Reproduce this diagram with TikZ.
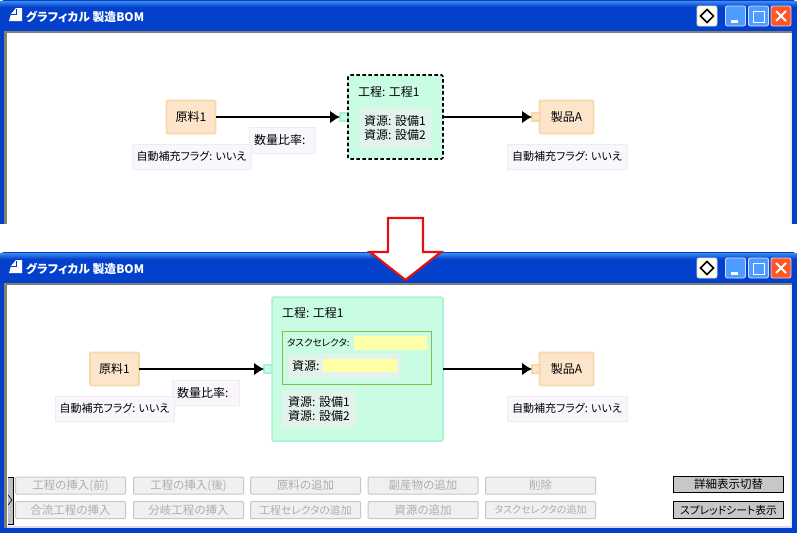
\documentclass[tikz,border=0pt]{standalone}
\usepackage{fontspec}
\usetikzlibrary{arrows.meta,shapes.geometric}
\setmainfont{Noto Sans CJK JP}[RawFeature={+palt}]
\newfontfamily\cjkui{Noto Sans CJK JP}[RawFeature={+palt}]
\definecolor{matfill}{HTML}{FDE5CC}
\definecolor{matline}{HTML}{F8D7A8}
\definecolor{procfill}{HTML}{C8FDE4}
\definecolor{procline}{HTML}{A8F2D0}
\definecolor{notefill}{HTML}{F9F6FC}
\definecolor{noteline}{HTML}{F0EAF4}
\definecolor{resfill}{HTML}{E2F3EC}
\definecolor{yel}{HTML}{FFFFA8}
\definecolor{selline}{HTML}{8CB84C}
\definecolor{xpblue}{HTML}{0340CC}
\definecolor{xptop}{HTML}{3C8CF0}
\definecolor{xpdark}{HTML}{0038C0}
\definecolor{frameg}{HTML}{808078}
\tikzset{
  every node/.style={inner sep=0pt,outer sep=0pt,font=\cjkui\fontsize{12}{14.5}\selectfont,text=black},
  matbox/.style={draw=matline,fill=matfill,line width=1.6pt,rounded corners=1pt},
  matport/.style={draw=matline,fill=matfill,line width=1.2pt,minimum width=8pt,minimum height=8pt},
  procport/.style={draw=procline,fill=procfill,line width=1.2pt,minimum width=8pt,minimum height=8pt},
  procbox/.style={fill=procfill,rounded corners=1.5pt},
  notebox/.style={draw=noteline,fill=notefill,line width=.8pt,font=\cjkui\fontsize{11}{13}\selectfont},
  ratiobox/.style={notebox,font=\cjkui\fontsize{12}{14}\selectfont},
  resbox/.style={fill=resfill,align=left},
  yelbox/.style={fill=yel},
  conn/.style={line width=2.2pt,black,-{Latex[length=10pt,width=13pt]}},
  offbtn/.style={draw=black!22,fill=black!6,line width=1pt,rounded corners=1pt,minimum width=110pt,minimum height=17pt,text=black!32,font=\cjkui\fontsize{11.5}{13}\selectfont},
  offsmall/.style={offbtn,font=\cjkui\fontsize{10}{12}\selectfont},
  onbtn/.style={draw=black,fill=black!22,line width=.8pt,minimum width=110pt,minimum height=16pt,text=black,font=\cjkui\fontsize{11.5}{13}\selectfont},
  capbtn/.style={draw=white!85!blue,line width=.8pt,rounded corners=2pt,minimum width=20pt,minimum height=20pt},
  wintitle/.style={anchor=west,text=white,font=\cjkui\bfseries\fontsize{11.8}{13}\selectfont},
}
\begin{document}
\begin{tikzpicture}[x=1pt,y=-1pt]
\useasboundingbox (0,0) rectangle (797,533);
\fill[white] (0,0) rectangle (797,533);
%% Window 1 frame
\fill[xpblue,rounded corners=4pt] (0,0) rectangle (797,40);
\fill[xpblue] (0,20) rectangle (797,224);
\shade[top color=xptop,bottom color=xpblue] (0,1) rectangle (797,7);
\fill[frameg] (4,31) rectangle (792,224);
\fill[white] (7,33) rectangle (790,224);
\fill[white!85!gray] (790,33) rectangle (792,224);
%% Window 2 frame
\fill[xpblue,rounded corners=4pt] (0,252) rectangle (797,292);
\fill[xpblue] (0,272) rectangle (797,533);
\shade[top color=xptop,bottom color=xpblue] (0,253) rectangle (797,259);
\fill[frameg] (4,283) rectangle (792,528);
\fill[white] (7,285) rectangle (790,526);
\fill[white!85!gray] (790,285) rectangle (792,526);
\fill[white!85!blue] (7,526) rectangle (792,528);
%% Title bars
\foreach \yy/\nm in {0/a,252/b}{
  \fill[white] (9,{\yy+21}) -- (11,{\yy+14}) -- (16,{\yy+8}) -- (22,{\yy+8}) -- (22,{\yy+21}) -- cycle;
  \draw[xpdark,line width=.8pt] (11,{\yy+14}) -- (16,{\yy+14}) -- (16,{\yy+9});
  \node[wintitle] (title\nm) at (26,{\yy+17}) {グラフィカル 製造BOM};
  \node[capbtn,fill=white!90!yellow] (mode\nm) at (707,{\yy+16}) {};
  \node[diamond,draw=black,line width=1.6pt,fill=white,minimum width=13pt,minimum height=13pt] (modei\nm) at (707,{\yy+16}) {};
  \node[capbtn,fill=blue!55!cyan!70!white] (min\nm) at (735.5,{\yy+16}) {};
  \fill[white] (731,{\yy+20}) rectangle (738,{\yy+23});
  \node[capbtn,fill=blue!55!cyan!70!white] (max\nm) at (758.5,{\yy+16}) {};
  \draw[white,line width=1pt] (753,{\yy+11}) rectangle (764,{\yy+22});
  \draw[white,line width=1.6pt] (753,{\yy+11.5}) -- (764,{\yy+11.5});
  \node[capbtn,fill=red!55!orange!85!white] (close\nm) at (781,{\yy+16}) {};
  \draw[white,line width=1.8pt] (776,{\yy+11}) -- (786,{\yy+21}) (786,{\yy+11}) -- (776,{\yy+21});
}
%% Upper diagram
\node[matbox,minimum width=49pt,minimum height=33pt] (raw1) at (191,117) {原料1};
\node[matbox,minimum width=54pt,minimum height=33pt] (prod1) at (566.5,117) {製品A};
\node[matport] (mp1) at (536,117) {};
\node[procbox,minimum width=95pt,minimum height=84pt] (proc1) at (395.5,117) {};
\node[procport] (pp1) at (344,117) {};
\draw[black,line width=1.6pt,dash pattern=on 3.5pt off 2.5pt,rounded corners=1.5pt] (proc1.north west) rectangle (proc1.south east);
\node[anchor=west] (t1) at (358,92) {工程: 工程1};
\node[resbox,minimum width=72pt,minimum height=40pt] (r1) at (395,128) {資源: 設備1\\資源: 設備2};
\node[ratiobox,minimum width=66pt,minimum height=26pt,text width=56pt] (q1) at (282,140) {数量比率:};
\node[notebox,minimum width=119pt,minimum height=25pt] (f1) at (191.5,156.5) {自動補充フラグ: いいえ};
\node[notebox,minimum width=120pt,minimum height=25pt] (f2) at (567,156.5) {自動補充フラグ: いいえ};
\draw[conn] (raw1.east) -- (pp1.west);
\draw[conn] (proc1.east) -- (mp1.west);
%% Lower diagram
\node[matbox,minimum width=49pt,minimum height=33pt] (raw2) at (114.5,369) {原料1};
\node[matbox,minimum width=54pt,minimum height=33pt] (prod2) at (566.5,369) {製品A};
\node[matport] (mp2) at (536,369) {};
\node[procbox,draw=procline,line width=1.5pt,minimum width=171pt,minimum height=144pt] (proc2) at (357.5,369) {};
\node[procport] (pp2) at (268,369) {};
\node[anchor=west] (t2) at (282,313) {工程: 工程1};
\node[draw=selline,fill=procfill,line width=.8pt,minimum width=149pt,minimum height=53pt] (sel) at (356.5,357.5) {};
\node[anchor=west,font=\cjkui\fontsize{9.6}{12}\selectfont] (sl) at (287,343) {タスクセレクタ:};
\node[yelbox,minimum width=73pt,minimum height=14pt] (sy) at (390.5,343) {};
\node[resbox,minimum width=113pt,minimum height=25pt] (rg) at (344.5,366.5) {};
\node[anchor=west] (rl) at (292,365.5) {資源:};
\node[yelbox,minimum width=74pt,minimum height=13pt] (ry) at (360,365.5) {};
\node[resbox,minimum width=74pt,minimum height=38pt] (r2) at (319,409) {資源: 設備1\\資源: 設備2};
\node[ratiobox,minimum width=67pt,minimum height=25pt,text width=57pt] (q2) at (205.5,392.5) {数量比率:};
\node[notebox,minimum width=119pt,minimum height=25pt] (f3) at (114.5,408.5) {自動補充フラグ: いいえ};
\node[notebox,minimum width=120pt,minimum height=25pt] (f4) at (567,408.5) {自動補充フラグ: いいえ};
\draw[conn] (raw2.east) -- (pp2.west);
\draw[conn] (proc2.east) -- (mp2.west);
%% Buttons
\node[offbtn] (b1) at (70.5,485.5) {工程の挿入(前)};
\node[offbtn] (b2) at (188.5,485.5) {工程の挿入(後)};
\node[offbtn] (b3) at (305.5,485.5) {原料の追加};
\node[offbtn] (b4) at (423,485.5) {副産物の追加};
\node[offbtn] (b5) at (540.5,485.5) {削除};
\node[offbtn] (b6) at (70.5,510) {合流工程の挿入};
\node[offbtn] (b7) at (188.5,510) {分岐工程の挿入};
\node[offsmall,font=\cjkui\fontsize{10.8}{12}\selectfont] (b8) at (305.5,510) {工程セレクタの追加};
\node[offbtn] (b9) at (423,510) {資源の追加};
\node[offsmall] (b10) at (540.5,510) {タスクセレクタの追加};
\node[onbtn] (c1) at (728.5,484.5) {詳細表示切替};
\node[onbtn,minimum height=17pt,font=\cjkui\fontsize{10.8}{13}\selectfont] (c2) at (728.5,510) {スプレッドシート表示};
%% Side toggle
\fill[black!25] (8,477) rectangle (13,525);
\draw[black,line width=.8pt] (8,477.5) -- (13.5,477.5) -- (13.5,524.5) -- (8,524.5);
\draw[black,line width=.6pt] (8,495) -- (12,500) -- (8,505);
%% Big red arrow
\draw[draw={rgb,255:red,226;green,16;blue,16},fill=white,line width=2.2pt,miter limit=6]
  (388,218) -- (423,218) -- (423,252) -- (441,252) -- (405.5,280) -- (370,252) -- (388,252) -- cycle;
\end{tikzpicture}
\end{document}
